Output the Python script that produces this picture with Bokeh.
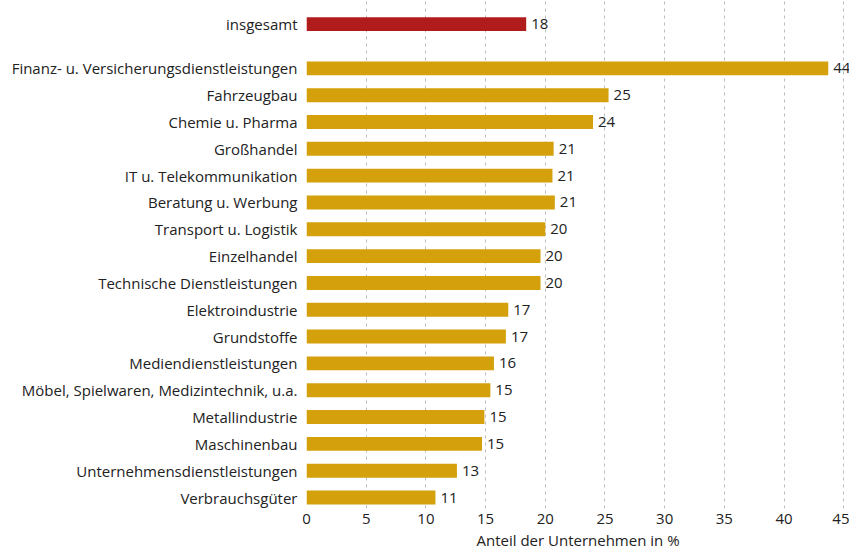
from bokeh.plotting import figure
from bokeh.models import ColumnDataSource, FixedTicker, Range1d
from bokeh.core.properties import value
from bokeh.embed import file_html
from bokeh.resources import INLINE

total_label = "insgesamt"
total_value = 18.4

categories = [
    "Finanz- u. Versicherungsdienstleistungen",
    "Fahrzeugbau",
    "Chemie u. Pharma",
    "Großhandel",
    "IT u. Telekommunikation",
    "Beratung u. Werbung",
    "Transport u. Logistik",
    "Einzelhandel",
    "Technische Dienstleistungen",
    "Elektroindustrie",
    "Grundstoffe",
    "Mediendienstleistungen",
    "Möbel, Spielwaren, Medizintechnik, u.a.",
    "Metallindustrie",
    "Maschinenbau",
    "Unternehmensdienstleistungen",
    "Verbrauchsgüter",
]
values = [43.7, 25.3, 24.0, 20.7, 20.6, 20.8, 20.0, 19.6, 19.6,
          16.9, 16.7, 15.7, 15.4, 14.9, 14.7, 12.6, 10.8]

x_ticks = [0, 5, 10, 15, 20, 25, 30, 35, 40, 45]
x_title = "Anteil der Unternehmen in %"

FONT = "Open Sans"
FS = "15px"
TXT = "#222222"
GOLD = "#D4A00B"
RED = "#B01B1C"

n = len(categories)
ypos = [float(n - 1 - i) for i in range(n)]
y_total = (n - 1) + 1.65

src = ColumnDataSource(dict(
    y=ypos, v=values, lab=[f"{v:.0f}" for v in values]))
src_t = ColumnDataSource(dict(
    y=[y_total], v=[total_value], lab=[f"{total_value:.0f}"]))

p = figure(width=849, height=552,
           x_range=Range1d(0, 45.48), y_range=Range1d(-0.41, y_total + 0.88),
           output_backend="svg", toolbar_location=None,
           min_border_left=306, min_border_right=0,
           min_border_top=0, min_border_bottom=44)
p.outline_line_color = None
p.background_fill_color = "white"
p.border_fill_color = "white"

p.hbar(y="y", right="v", left=0, height=0.52, source=src,
       fill_color=GOLD, line_color=None)
p.hbar(y="y", right="v", left=0, height=0.52, source=src_t,
       fill_color=RED, line_color=None)

for s in (src, src_t):
    p.text(x="v", y="y", text="lab", source=s, x_offset=5,
           text_baseline="middle", text_align="left",
           text_font=value(FONT), text_font_size=FS, text_color=TXT)

# x axis
p.xaxis.ticker = FixedTicker(ticks=x_ticks)
p.xaxis.axis_line_color = None
p.xaxis.major_tick_line_color = None
p.xaxis.minor_tick_line_color = None
p.xaxis.major_tick_in = 0
p.xaxis.major_tick_out = 0
p.xaxis.major_label_standoff = 5
p.xaxis.major_label_text_font = FONT
p.xaxis.major_label_text_font_size = FS
p.xaxis.major_label_text_color = TXT
p.xaxis.axis_label = x_title
p.xaxis.axis_label_text_font = FONT
p.xaxis.axis_label_text_font_size = FS
p.xaxis.axis_label_text_font_style = "normal"
p.xaxis.axis_label_text_color = TXT
p.xaxis.axis_label_standoff = 3

# y axis
p.yaxis.ticker = FixedTicker(ticks=ypos + [y_total])
overrides = {y: c for y, c in zip(ypos, categories)}
overrides[y_total] = total_label
p.yaxis.major_label_overrides = overrides
p.yaxis.axis_line_color = None
p.yaxis.major_tick_line_color = None
p.yaxis.minor_tick_line_color = None
p.yaxis.major_label_standoff = 3
p.yaxis.major_label_text_font = FONT
p.yaxis.major_label_text_font_size = FS
p.yaxis.major_label_text_color = TXT

p.xgrid.ticker = FixedTicker(ticks=x_ticks)
p.xgrid.grid_line_color = "#BBBBBB"
p.xgrid.grid_line_dash = "3 4"
p.xgrid.grid_line_width = 1
p.ygrid.grid_line_color = None

open("out.html", "w").write(file_html(p, INLINE))
